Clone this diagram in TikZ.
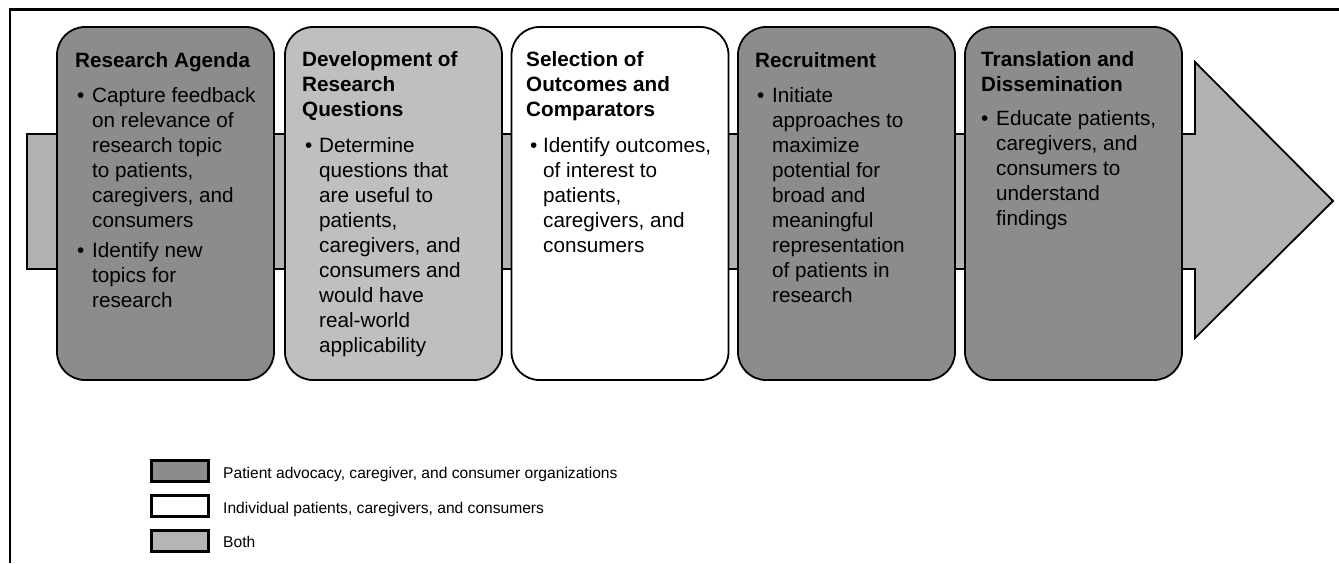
\documentclass[tikz,border=0pt]{standalone}
\usepackage{fontspec}
\setmainfont{Liberation Sans}
\definecolor{darkfill}{gray}{0.55}
\definecolor{lightfill}{gray}{0.75}
\definecolor{arrowfill}{gray}{0.70}
\definecolor{bothfill}{gray}{0.71}
\newcommand\stack[1]{\vtop{\baselineskip=25pt\lineskiplimit=-50pt\halign{##\hfil\cr#1\crcr}}}
\begin{document}
\begin{tikzpicture}[x=1pt,y=-1pt,
  stage/.style={draw=black,line width=1.8pt,rounded corners=28pt,minimum width=217pt,minimum height=353pt,inner sep=0pt},
  ttl/.style={anchor=base west,inner sep=0pt,font=\fontsize{20.7}{25}\selectfont\bfseries},
  txt/.style={anchor=base west,inner sep=0pt,font=\fontsize{20.7}{25}\selectfont},
  key/.style={draw=black,line width=2.4pt,minimum width=57pt,minimum height=21pt,inner sep=0pt},
  keytxt/.style={anchor=base west,inner sep=0pt,font=\fontsize{15.6}{19}\selectfont}]
\useasboundingbox (0,0) rectangle (1339,563);
\fill[white] (0,0) rectangle (1339,563);
% frame
\draw[line width=2.5pt] (10,563) -- (10,9.5) -- (1345,9.5);
% arrow
\draw[fill=arrowfill,line width=1.8pt] (27,134) -- (1195,134) -- (1195,62) -- (1333,201) -- (1195,338) -- (1195,269) -- (27,269) -- cycle;
% stages
\node[stage,fill=darkfill]  (b1) at (165.5,203.5) {};
\node[stage,fill=lightfill] (b2) at (393.5,203.5) {};
\node[stage,fill=white]     (b3) at (620,203.5) {};
\node[stage,fill=darkfill]  (b4) at (846.5,203.5) {};
\node[stage,fill=darkfill]  (b5) at (1073.5,203.5) {};
% box 1
\node[ttl] (t1) at (75,67) {\stack{Research Agenda}};
\node[txt] (d1a) at (77,102) {•};
\node[txt] (l1a) at (92,102) {\stack{Capture feedback\cr on relevance of\cr research topic\cr to patients,\cr caregivers, and\cr consumers}};
\node[txt] (d1b) at (77,257) {•};
\node[txt] (l1b) at (92,257) {\stack{Identify new\cr topics for\cr research}};
% box 2
\node[ttl] (t2) at (302,66) {\stack{Development of\cr Research\cr Questions}};
\node[txt] (d2) at (305,152) {•};
\node[txt] (l2) at (319,152) {\stack{Determine\cr questions that\cr are useful to\cr patients,\cr caregivers, and\cr consumers and\cr would have\cr real-world\cr applicability}};
% box 3
\node[ttl] (t3) at (526,66) {\stack{Selection of\cr Outcomes and\cr Comparators}};
\node[txt] (d3) at (530,152) {•};
\node[txt] (l3) at (543,152) {\stack{Identify outcomes,\cr of interest to\cr patients,\cr caregivers, and\cr consumers}};
% box 4
\node[ttl] (t4) at (755,67) {\stack{Recruitment}};
\node[txt] (d4) at (757,102) {•};
\node[txt] (l4) at (772,102) {\stack{Initiate\cr approaches to\cr maximize\cr potential for\cr broad and\cr meaningful\cr representation\cr of patients in\cr research}};
% box 5
\node[ttl] (t5) at (981,66) {\stack{Translation and\cr Dissemination}};
\node[txt] (d5) at (981,125) {•};
\node[txt] (l5) at (996,125) {\stack{Educate patients,\cr caregivers, and\cr consumers to\cr understand\cr findings}};
% legend
\node[key,fill=darkfill] (k1) at (180,471) {};
\node[key,fill=white]    (k2) at (180,506) {};
\node[key,fill=bothfill] (k3) at (180,541) {};
\node[keytxt] (kt1) at (223,478) {Patient advocacy, caregiver, and consumer organizations};
\node[keytxt] (kt2) at (223,513) {Individual patients, caregivers, and consumers};
\node[keytxt] (kt3) at (223,547) {Both};
\end{tikzpicture}
\end{document}
